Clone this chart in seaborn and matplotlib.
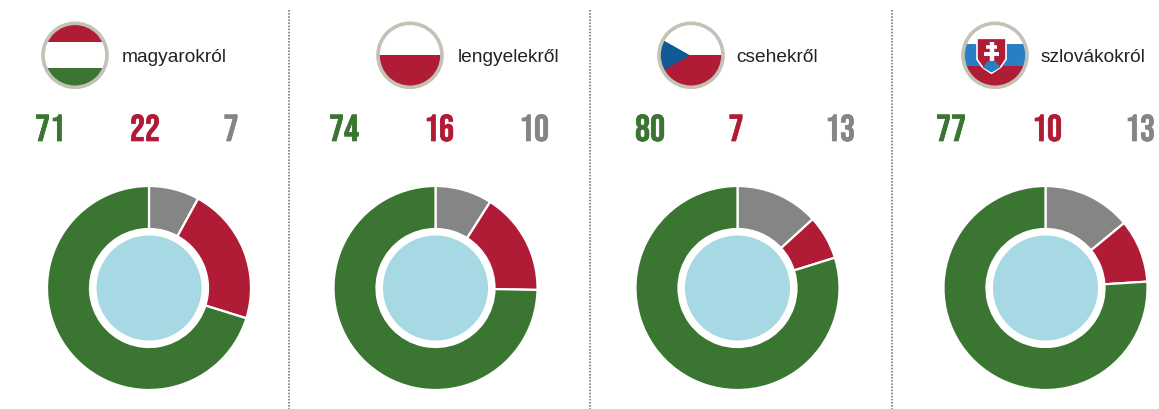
import matplotlib
matplotlib.use("Agg")
import matplotlib.pyplot as plt
from matplotlib.patches import Circle, Rectangle, Polygon
import matplotlib.patheffects as pe
import seaborn as sns

names = ["magyarokról", "lengyelekről", "csehekről", "szlovákokról"]
# printed figures
green_vals = [71, 74, 80, 77]
red_vals = [22, 16, 7, 10]
grey_vals = [7, 10, 13, 13]
# slice shares as drawn in the rings (they differ a little from the printed figures)
green_slices = [70.2, 74.7, 79.8, 76]
red_slices = [21.8, 16.3, 7, 10]
grey_slices = [8, 9, 13.2, 14]

GREEN, RED, GREY = "#3A7531", "#B01C36", "#858585"
BLUE = "#A6D9E3"
W, H = 1159, 409

sns.set_theme(style="white")
plt.rcParams["font.family"] = ["Liberation Sans", "DejaVu Sans"]
NUM_FONT = ["Bebas Neue", "Oswald", "Liberation Sans"]

fig = plt.figure(figsize=(W / 100, H / 100), dpi=100, facecolor="white")
ov = fig.add_axes([0, 0, 1, 1], zorder=5)
ov.set_xlim(0, W); ov.set_ylim(H, 0); ov.axis("off"); ov.patch.set_alpha(0)

centers = [149, 435.5, 737.5, 1045.5]
num_x = [(50, 145, 231), (344, 439, 534), (650, 736, 840), (951, 1047, 1140)]
flag_x = [75, 410, 691, 995]
name_x = [122, 458, 736, 1041]
seps = [289, 590, 892]
R = 102

for cx, g, r, gr in zip(centers, green_slices, red_slices, grey_slices):
    ax = fig.add_axes([(cx - R - 2) / W, 1 - (288 + R + 2) / H, (2 * R + 4) / W, (2 * R + 4) / H])
    ax.pie([gr, r, g], colors=[GREY, RED, GREEN], startangle=90, counterclock=False, radius=1.0,
           wedgeprops=dict(width=1 - 59 / R, edgecolor="white", linewidth=1.6))
    ax.add_patch(Circle((0, 0), 52.5 / R, color=BLUE, lw=0))
    ax.set_xlim(-(R + 2) / R, (R + 2) / R); ax.set_ylim(-(R + 2) / R, (R + 2) / R)
    ax.set_aspect("equal")

for x in seps:
    ov.plot([x, x], [10, 409], color="#888888", lw=1.4, ls=(0, (0.8, 0.8)))

for xs, g, r, gr in zip(num_x, green_vals, red_vals, grey_vals):
    for x, v, c in zip(xs, (g, r, gr), (GREEN, RED, GREY)):
        ov.text(x, 141, str(v), color=c, fontsize=27, family=NUM_FONT, ha="center", va="baseline",
                path_effects=[pe.withStroke(linewidth=0.5, foreground=c)])

for x, n in zip(name_x, names):
    ov.text(x, 55, n, color="#222222", fontsize=13.8, ha="left", va="center_baseline")

def flag(cx, kind):
    cy, r = 55.3, 31
    clip = Circle((cx, cy), r, transform=ov.transData)
    def add(p):
        ov.add_patch(p); p.set_clip_path(clip)
    add(Rectangle((cx - r, cy - r), 2 * r, 2 * r, color="white", lw=0))
    if kind == 0:
        add(Rectangle((cx - r, cy - r), 2 * r, 18, color=RED, lw=0))
        add(Rectangle((cx - r, cy + 13), 2 * r, 20, color=GREEN, lw=0))
    elif kind == 1:
        add(Rectangle((cx - r, cy), 2 * r, r, color=RED, lw=0))
    elif kind == 2:
        add(Rectangle((cx - r, cy), 2 * r, r, color=RED, lw=0))
        add(Polygon([(cx - r - 2, cy - 18), (cx - 1, cy), (cx - r - 2, cy + 18)], color="#0F5A94", lw=0))
    else:
        add(Rectangle((cx - r, cy - 11), 2 * r, 22, color="#2A7FC4", lw=0))
        add(Rectangle((cx - r, cy + 11), 2 * r, 22, color=RED, lw=0))
        sx = cx - 3.5
        ov.add_patch(Polygon([(sx - 14.5, cy - 17), (sx + 14.5, cy - 17), (sx + 14.5, cy + 4), (sx + 9, cy + 12),
                              (sx, cy + 18), (sx - 9, cy + 12), (sx - 14.5, cy + 4)],
                             fc=RED, ec="white", lw=1.2, zorder=4))
        ov.plot([sx, sx], [cy - 13, cy + 6], color="white", lw=3.2, zorder=5, solid_capstyle="butt")
        ov.plot([sx - 5.5, sx + 5.5], [cy - 8, cy - 8], color="white", lw=2.6, zorder=5, solid_capstyle="butt")
        ov.plot([sx - 7.5, sx + 7.5], [cy - 1, cy - 1], color="white", lw=2.8, zorder=5, solid_capstyle="butt")
        ov.add_patch(Polygon([(sx - 9, cy + 12), (sx - 4, cy + 6), (sx + 4, cy + 6), (sx + 9, cy + 12), (sx, cy + 17)],
                             fc="#2A7FC4", lw=0, zorder=5))
    ov.add_patch(Circle((cx, cy), 32, fc="none", ec="#C4C1B6", lw=2.6, zorder=6))

for i, x in enumerate(flag_x):
    flag(x, i)

fig.savefig("out.png", dpi=100, facecolor="white")
